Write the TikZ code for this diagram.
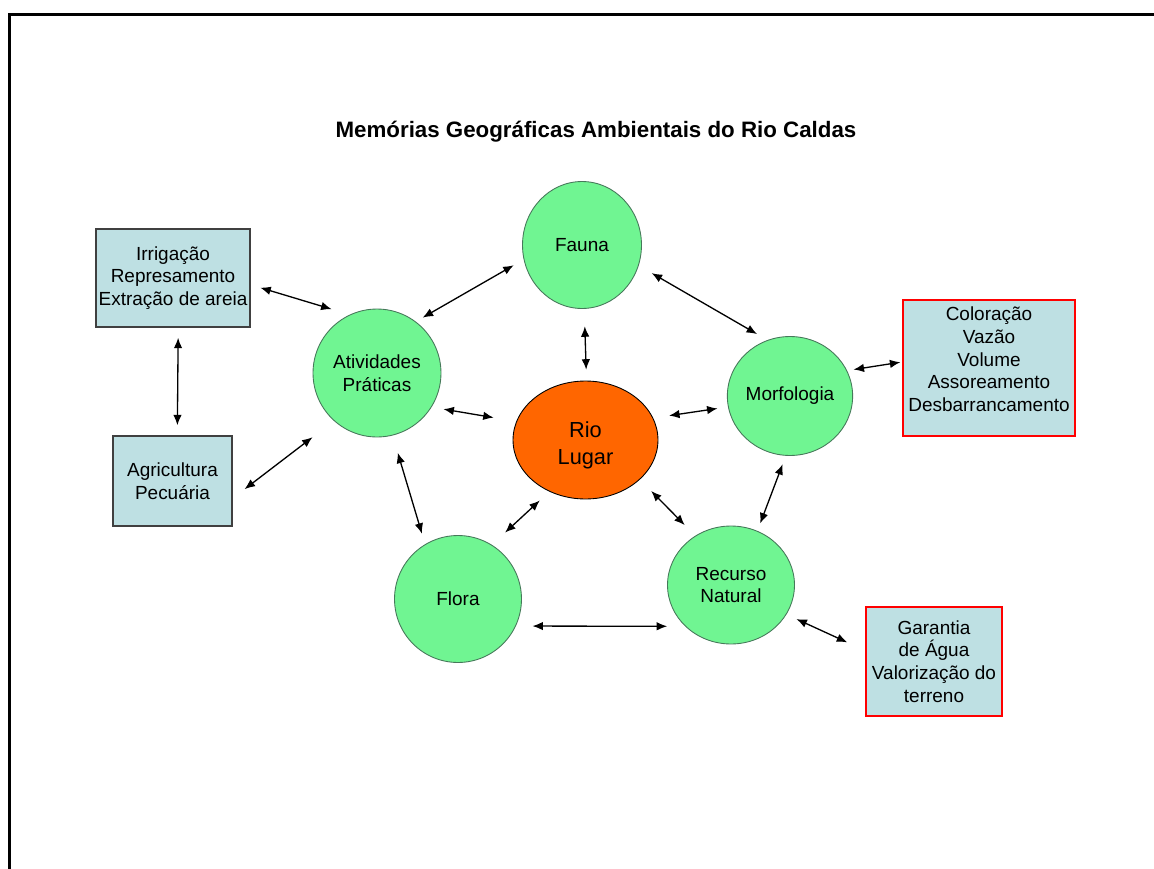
\documentclass[tikz,border=0pt]{standalone}
\usepackage{fontspec}
\setmainfont{Liberation Sans}
\usepackage{xcolor}
\usepackage{tikz}
\usetikzlibrary{arrows.meta, shapes.geometric}

\definecolor{verde}{RGB}{112,245,146}
\definecolor{laranja}{RGB}{255,102,0}
\definecolor{azulcaixa}{RGB}{190,224,227}
\definecolor{contorno}{RGB}{70,120,90}

\begin{document}
\begin{tikzpicture}[x=0.02cm, y=-0.02cm, >={Latex[length=2.1mm, width=1.7mm]},
    every node/.style={align=center, inner sep=0pt, font=\fontsize{10.8}{13}\selectfont},
    tema/.style={ellipse, draw=contorno, fill=verde, line width=0.5pt},
    rio/.style={ellipse, draw=black, fill=laranja, line width=0.5pt, font=\fontsize{12.4}{15.9}\selectfont},
    caixa/.style={rectangle, draw=black!75, fill=azulcaixa, line width=0.8pt},
    caixavermelha/.style={rectangle, draw=red, fill=azulcaixa, line width=0.8pt},
    seta/.style={<->, line width=0.75pt}]
    \useasboundingbox (0,0) rectangle (1154,869);

    % Frame
    \draw[line width=1.7pt] (9.5,880) -- (9.5,14.5) -- (1165,14.5);

    % Title
    \node (titulo) at (596,132) [font=\fontsize{12.7}{15}\selectfont\bfseries] {Memórias Geográficas Ambientais do Rio Caldas};

    % Nodes
    \node (rio) at (585.5,440) [rio, minimum width=2.9cm, minimum height=2.36cm, text height=31pt] {Rio\\Lugar};
    \node (fauna) at (582,245) [tema, minimum width=2.38cm, minimum height=2.54cm] {Fauna};
    \node (atv) at (377,373) [tema, minimum width=2.56cm, minimum height=2.56cm] {Atividades\\Práticas};
    \node (morf) at (790,396) [tema, minimum width=2.38cm, minimum height=2.38cm] {Morfologia};
    \node (rec) at (731,585) [tema, minimum width=2.54cm, minimum height=2.36cm] {Recurso\\Natural};
    \node (flora) at (458,599) [tema, minimum width=2.54cm, minimum height=2.54cm] {Flora};

    \node (irr) at (173,278) [caixa, minimum width=3.08cm, minimum height=1.96cm] {Irrigação\\Represamento\\Extração de areia};
    \node (agr) at (172.5,481) [caixa, minimum width=2.38cm, minimum height=1.8cm] {Agricultura\\Pecuária};
    \node (col) at (989,368) [caixavermelha, minimum width=3.44cm, minimum height=2.72cm, text depth=10pt] {Coloração\\Vazão\\Volume\\Assoreamento\\Desbarrancamento};
    \node (gar) at (934,661.5) [caixavermelha, minimum width=2.72cm, minimum height=2.18cm] {Garantia\\de Água\\Valorização do\\terreno};

    % Double-headed connectors
    \draw[seta, shorten <=5.7pt, shorten >=10.8pt] (irr.-5) -- (atv.115);
    \draw[seta, shorten <=5.7pt, shorten >=5.7pt] (irr.-84) -- (agr.84);
    \draw[seta, shorten <=8.5pt, shorten >=15.3pt] (agr.-16) -- (atv.228);
    \draw[seta, shorten <=4.5pt, shorten >=6.5pt] (atv.53) -- (fauna.194);
    \draw[seta, shorten <=8.5pt, shorten >=6.8pt] (fauna.-20) -- (morf.112);
    \draw[seta, shorten <=9.9pt, shorten >=6.2pt] (fauna.-88) -- (rio.89);
    \draw[seta, shorten <=6.8pt, shorten >=13pt] (atv.-32) -- (rio.165);
    \draw[seta, shorten <=9.1pt, shorten >=6pt] (rio.18) -- (morf.190);
    \draw[seta, shorten <=3.7pt, shorten >=1.1pt] (morf.24) -- (col.176);
    \draw[seta, shorten <=10.2pt, shorten >=6.2pt] (atv.-76) -- (flora.121);
    \draw[seta, shorten <=7.4pt, shorten >=10.2pt] (rio.235) -- (flora.58);
    \draw[seta, shorten <=9.1pt, shorten >=8.5pt] (rio.-36) -- (rec.126);
    \draw[seta, shorten <=5.1pt, shorten >=4.5pt] (morf.-94) -- (rec.64);
    \draw[seta, shorten <=9.4pt, shorten >=10.2pt] (flora.-25) -- (rec.222);
    \draw[seta, shorten <=6.2pt, shorten >=11.3pt] (rec.-28) -- (gar.171);
\end{tikzpicture}
\end{document}
